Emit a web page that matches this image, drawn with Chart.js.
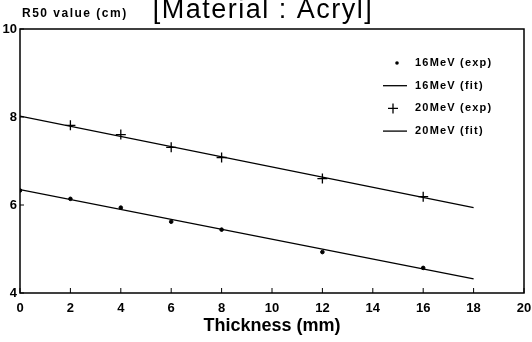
<!DOCTYPE html>
<html>
<head>
<meta charset="utf-8">
<title>R50 vs Thickness (Acryl)</title>
<script src="https://cdn.jsdelivr.net/npm/chart.js@4/dist/chart.umd.min.js"></script>
<style>
  html, body { margin: 0; padding: 0; background: #fff; overflow: hidden; }
  canvas { display: block; }
</style>
</head>
<body>
<canvas id="r50Chart" width="532" height="342"></canvas>
<script>
// --- data ---
const thickness = [0, 2, 4, 6, 8, 12, 16];
const r50_16exp = [6.33, 6.14, 5.94, 5.62, 5.44, 4.93, 4.57];
const thickness20 = [2, 4, 6, 8, 12, 16];
const r50_20exp = [7.81, 7.60, 7.31, 7.08, 6.60, 6.19];
const fitX = [0, 18];
const r50_16fit = [6.35, 4.32];
const r50_20fit = [8.02, 5.94];
const xTicks = [0, 2, 4, 6, 8, 10, 12, 14, 16, 18, 20];
const yTicks = [4, 6, 8, 10];

const FONT = '"Liberation Sans", Arial, sans-serif';

function pts(xs, ys) {
  return xs.map((x, i) => ({ x: x, y: ys[i] }));
}

// title, y-label, inward ticks, frame and legend
const paperPlugin = {
  id: 'paper',
  afterDraw(chart) {
    const ctx = chart.ctx;
    const a = chart.chartArea;
    const xs = chart.scales.x, ys = chart.scales.y;
    ctx.save();
    ctx.fillStyle = '#000';
    ctx.strokeStyle = '#000';

    // title (top is cut off in the scan)
    ctx.font = '27px ' + FONT;
    ctx.letterSpacing = '1.5px';
    ctx.textAlign = 'center';
    ctx.textBaseline = 'alphabetic';
    ctx.fillText('[Material : Acryl]', 263, 18);

    // y axis label
    ctx.font = 'bold 12px ' + FONT;
    ctx.letterSpacing = '1.5px';
    ctx.textAlign = 'left';
    ctx.textBaseline = 'middle';
    ctx.fillText('R50 value (cm)', 22, 14);
    ctx.letterSpacing = '0px';

    // frame
    ctx.lineWidth = 1.5;
    ctx.strokeRect(a.left, a.top, a.right - a.left, a.bottom - a.top);

    // small inward ticks
    ctx.lineWidth = 1;
    ctx.beginPath();
    xTicks.forEach(v => {
      const px = xs.getPixelForValue(v);
      ctx.moveTo(px, a.bottom);
      ctx.lineTo(px, a.bottom - 5);
    });
    yTicks.forEach(v => {
      const py = ys.getPixelForValue(v);
      ctx.moveTo(a.left, py);
      ctx.lineTo(a.left + 4, py);
    });
    ctx.stroke();

    // legend
    ctx.font = 'bold 11px ' + FONT;
    ctx.letterSpacing = '1.2px';
    ctx.textAlign = 'left';
    ctx.textBaseline = 'middle';
    chart.data.datasets.forEach((ds, i) => {
      const y = 63 + i * 22.7;
      if (ds.showLine === false) {
        if (ds.pointStyle === 'cross') {
          ctx.lineWidth = 1.3;
          ctx.beginPath();
          ctx.moveTo(388, y); ctx.lineTo(398, y);
          ctx.moveTo(393, y - 5); ctx.lineTo(393, y + 5);
          ctx.stroke();
        } else {
          ctx.beginPath();
          ctx.arc(397, y, 1.8, 0, Math.PI * 2);
          ctx.fill();
        }
      } else {
        ctx.lineWidth = 1.3;
        ctx.beginPath();
        ctx.moveTo(383, y); ctx.lineTo(407, y);
        ctx.stroke();
      }
      ctx.fillText(ds.label, 415, y);
    });
    ctx.restore();
  }
};

const ctx = document.getElementById('r50Chart').getContext('2d');
const myChart = new Chart(ctx, {
  type: 'line',
  data: {
    datasets: [
      {
        label: '16MeV (exp)',
        data: pts(thickness, r50_16exp),
        showLine: false,
        pointStyle: 'circle',
        pointRadius: 1.8,
        backgroundColor: '#000',
        borderColor: '#000'
      },
      {
        label: '16MeV (fit)',
        data: pts(fitX, r50_16fit),
        borderColor: '#000',
        borderWidth: 1.3,
        pointRadius: 0
      },
      {
        label: '20MeV (exp)',
        data: pts(thickness20, r50_20exp),
        showLine: false,
        pointStyle: 'cross',
        pointRadius: 5,
        borderWidth: 1.3,
        borderColor: '#000'
      },
      {
        label: '20MeV (fit)',
        data: pts(fitX, r50_20fit),
        borderColor: '#000',
        borderWidth: 1.3,
        pointRadius: 0
      }
    ]
  },
  options: {
    responsive: false,
    animation: false,
    layout: { padding: { top: 29, right: 8, left: 0, bottom: 0 } },
    plugins: {
      legend: { display: false },
      tooltip: { enabled: false }
    },
    scales: {
      x: {
        type: 'linear',
        min: 0,
        max: 20,
        afterFit: s => { s.height = 49; s.paddingLeft = 0; s.paddingRight = 0; },
        afterBuildTicks: s => { s.ticks = xTicks.map(v => ({ value: v })); },
        grid: { display: false, drawTicks: false },
        border: { display: false },
        ticks: {
          autoSkip: false,
          maxRotation: 0,
          padding: 8,
          color: '#000',
          font: { family: FONT, size: 13, weight: 'bold' }
        },
        title: {
          display: true,
          text: 'Thickness (mm)',
          color: '#000',
          padding: { top: 0, bottom: 5 },
          font: { family: FONT, size: 18, weight: 'bold' }
        }
      },
      y: {
        min: 4,
        max: 10,
        afterFit: s => { s.width = 20; s.paddingTop = 0; s.paddingBottom = 0; },
        afterBuildTicks: s => { s.ticks = yTicks.map(v => ({ value: v })); },
        grid: { display: false, drawTicks: false },
        border: { display: false },
        ticks: {
          padding: 3,
          color: '#000',
          font: { family: FONT, size: 13, weight: 'bold' }
        }
      }
    }
  },
  plugins: [paperPlugin]
});
</script>
</body>
</html>
